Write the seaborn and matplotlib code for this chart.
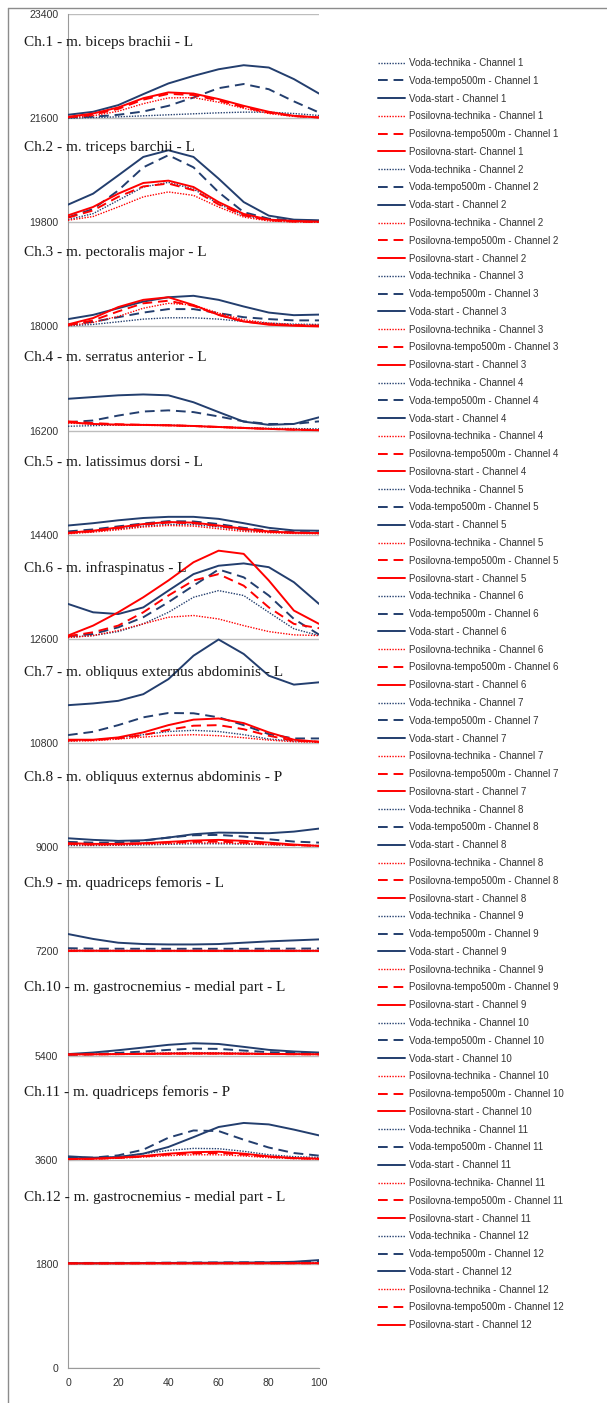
import matplotlib
matplotlib.use("Agg")
import matplotlib.pyplot as plt
import matplotlib.transforms as mtransforms
from matplotlib.lines import Line2D
import seaborn as sns
import numpy as np

# x positions (% of cycle)
X = [0, 10, 20, 30, 40, 50, 60, 70, 80, 90, 100]

SERIES = ["Voda-technika", "Voda-tempo500m", "Voda-start",
          "Posilovna-technika", "Posilovna-tempo500m", "Posilovna-start"]

TITLES = [
    "Ch.1 - m. biceps brachii - L",
    "Ch.2 - m. triceps barchii - L",
    "Ch.3 - m. pectoralis major - L",
    "Ch.4 - m. serratus anterior - L",
    "Ch.5 - m. latissimus dorsi - L",
    "Ch.6 - m. infraspinatus - L",
    "Ch.7 - m. obliquus externus abdominis - L",
    "Ch.8 - m. obliquus externus abdominis - P",
    "Ch.9 - m. quadriceps femoris - L",
    "Ch.10 - m. gastrocnemius - medial part - L",
    "Ch.11 - m. quadriceps femoris - P",
    "Ch.12 - m. gastrocnemius - medial part - L",
]

# values above each channel's baseline, rows in SERIES order
CH1 = [[0, 10, 23, 40, 58, 75, 92, 104, 104, 80, 46],
       [10, 25, 58, 115, 213, 357, 518, 590, 500, 290, 98],
       [58, 110, 225, 415, 600, 730, 845, 915, 875, 675, 425],
       [10, 40, 120, 250, 350, 355, 275, 170, 80, 30, 10],
       [15, 60, 160, 320, 420, 400, 305, 190, 95, 35, 12],
       [23, 80, 185, 345, 445, 425, 330, 213, 110, 40, 12]]
CH2 = [[46, 150, 380, 610, 690, 575, 320, 115, 46, 23, 12],
       [86, 230, 550, 950, 1160, 950, 520, 175, 63, 35, 23],
       [305, 495, 810, 1130, 1245, 1130, 755, 350, 115, 46, 35],
       [35, 100, 265, 440, 525, 465, 265, 90, 23, 6, 0],
       [80, 205, 440, 620, 670, 555, 310, 120, 35, 12, 6],
       [120, 265, 495, 680, 720, 610, 350, 145, 46, 23, 12]]
CH3 = [[12, 35, 80, 127, 150, 150, 127, 86, 58, 40, 35],
       [30, 80, 160, 240, 300, 300, 230, 160, 127, 105, 105],
       [127, 200, 315, 430, 505, 530, 460, 345, 240, 195, 205],
       [12, 70, 175, 315, 400, 370, 230, 115, 58, 30, 17],
       [23, 105, 260, 400, 445, 355, 200, 86, 40, 23, 12],
       [35, 145, 335, 460, 505, 370, 200, 86, 30, 12, 0]]
CH4 = [[75, 86, 98, 104, 98, 80, 63, 52, 40, 35, 30],
       [145, 175, 260, 330, 350, 320, 245, 160, 115, 115, 160],
       [550, 580, 610, 625, 610, 490, 320, 155, 100, 115, 230],
       [130, 110, 98, 92, 86, 75, 58, 40, 30, 17, 12],
       [160, 130, 110, 100, 92, 80, 63, 46, 30, 17, 10],
       [145, 115, 104, 98, 92, 80, 63, 46, 30, 17, 6]]
CH5 = [[35, 58, 104, 150, 180, 175, 135, 80, 46, 35, 29],
       [58, 92, 145, 195, 235, 230, 185, 120, 70, 46, 40],
       [160, 200, 250, 290, 310, 310, 275, 200, 120, 75, 70],
       [17, 46, 86, 135, 160, 150, 104, 58, 35, 23, 17],
       [29, 58, 115, 175, 210, 200, 150, 92, 52, 35, 29],
       [35, 70, 127, 185, 220, 210, 160, 104, 58, 35, 29]]
CH6 = [[29, 58, 127, 260, 460, 720, 835, 750, 460, 175, 58],
       [46, 86, 200, 375, 635, 920, 1200, 1065, 750, 345, 75],
       [605, 460, 430, 545, 835, 1120, 1265, 1305, 1240, 980, 605],
       [23, 58, 145, 260, 375, 405, 345, 230, 127, 70, 58],
       [46, 115, 230, 460, 750, 1010, 1120, 920, 545, 260, 185],
       [58, 230, 460, 720, 1010, 1325, 1525, 1470, 1010, 490, 260]]
CH7 = [[40, 52, 92, 145, 200, 220, 200, 145, 70, 35, 23],
       [138, 195, 310, 445, 520, 515, 445, 310, 155, 80, 80],
       [655, 685, 730, 845, 1105, 1510, 1790, 1540, 1165, 1010, 1050],
       [35, 40, 70, 104, 132, 145, 127, 92, 52, 23, 12],
       [46, 52, 80, 138, 230, 300, 310, 240, 127, 40, 23],
       [58, 58, 98, 185, 310, 405, 425, 345, 185, 58, 23]]
CH8 = [[30, 30, 35, 40, 50, 60, 60, 55, 45, 35, 30],
       [92, 80, 80, 110, 167, 207, 213, 185, 138, 98, 80],
       [155, 127, 110, 120, 167, 225, 253, 248, 242, 270, 322],
       [46, 40, 40, 52, 63, 75, 75, 63, 46, 35, 23],
       [58, 46, 52, 63, 80, 92, 98, 80, 58, 35, 23],
       [70, 58, 58, 70, 92, 115, 127, 110, 80, 46, 23]]
CH9 = [[20, 18, 16, 15, 15, 15, 15, 15, 16, 17, 18],
       [55, 48, 46, 45, 45, 45, 45, 45, 46, 48, 50],
       [300, 215, 150, 127, 120, 120, 127, 150, 173, 190, 207],
       [8, 8, 7, 7, 7, 7, 7, 7, 7, 7, 7],
       [10, 10, 9, 9, 9, 9, 9, 9, 9, 9, 9],
       [12, 11, 10, 10, 10, 10, 10, 10, 10, 10, 10]]
CH10 = [[20, 25, 30, 38, 45, 50, 48, 40, 33, 28, 25],
        [12, 23, 46, 70, 98, 120, 115, 86, 58, 46, 40],
        [25, 52, 92, 138, 185, 213, 200, 150, 98, 70, 52],
        [15, 17, 20, 23, 26, 28, 28, 25, 22, 20, 18],
        [18, 20, 24, 28, 32, 35, 34, 30, 26, 23, 20],
        [20, 22, 26, 30, 35, 38, 37, 33, 28, 25, 22]]
CH11 = [[17, 23, 46, 104, 160, 195, 190, 145, 86, 52, 40],
        [35, 35, 75, 173, 380, 505, 495, 345, 210, 115, 70],
        [58, 35, 46, 104, 220, 390, 565, 635, 610, 520, 420],
        [8, 12, 25, 45, 70, 85, 85, 65, 35, 18, 10],
        [10, 15, 30, 55, 90, 110, 115, 88, 50, 25, 15],
        [12, 17, 35, 63, 104, 130, 138, 104, 58, 29, 17]]
CH12 = [[8, 8, 9, 10, 11, 12, 13, 14, 15, 18, 22],
        [15, 16, 17, 18, 20, 22, 24, 26, 28, 32, 40],
        [10, 11, 12, 14, 16, 18, 20, 22, 26, 36, 65],
        [5, 5, 5, 6, 6, 6, 6, 7, 7, 7, 8],
        [7, 7, 7, 8, 8, 8, 9, 9, 9, 10, 10],
        [9, 9, 9, 10, 10, 10, 10, 11, 11, 12, 12]]

CHANNELS = [CH1, CH2, CH3, CH4, CH5, CH6, CH7, CH8, CH9, CH10, CH11, CH12]

# legend text quirks from the original workbook
LABEL_FIX = {(1, "Posilovna-start"): "Posilovna-start- Channel 1",
             (11, "Posilovna-technika"): "Posilovna-technika- Channel 11"}

NAVY = "#233E6E"
RED = "#FF0000"
DOT = (0, (1, 1))
DASH = (0, (5, 3))
STYLES = [(NAVY, DOT), (NAVY, DASH), (NAVY, "-"),
          (RED, DOT), (RED, DASH), (RED, "-")]

STEP = 1800
YMAX = 23400


def main():
    sns.set_style("white")
    plt.rcParams["font.family"] = ["Liberation Sans", "DejaVu Sans"]

    fig = plt.figure(figsize=(6.07, 14.03), dpi=100)
    ax = fig.add_axes([68 / 607, 1 - 1368 / 1403, 251 / 607, 1354 / 1403])

    handles, labels = [], []
    for i, ch in enumerate(CHANNELS):
        base = YMAX - STEP * (i + 1)
        for name, vals, (col, ls) in zip(SERIES, ch, STYLES):
            lw = 1.0 if ls == DOT else 1.4
            y = np.array(vals) + base
            sns.lineplot(x=X, y=y, ax=ax, color=col, linestyle=ls,
                         linewidth=lw, zorder=3)
            lab = LABEL_FIX.get((i + 1, name), f"{name} - Channel {i + 1}")
            handles.append(Line2D([], [], color=col, linestyle=ls, linewidth=lw))
            labels.append(lab)

    ax.set_xlim(0, 100)
    ax.set_ylim(0, YMAX)
    ax.set_xticks(range(0, 101, 20))
    ax.set_yticks(range(0, YMAX + 1, STEP))
    ax.yaxis.grid(True, color="#BDBDBD", linewidth=1.0)
    ax.set_axisbelow(True)
    for s in ["top", "right"]:
        ax.spines[s].set_visible(False)
    for s in ["left", "bottom"]:
        ax.spines[s].set_color("#9A9A9A")
    ax.tick_params(axis="both", length=4, width=1, color="#9A9A9A",
                   labelsize=7.6, labelcolor="#333333", direction="out", pad=3)

    # channel titles, left of the axis, near top of each band
    trans = mtransforms.blended_transform_factory(fig.transFigure, ax.transData)
    for i, t in enumerate(TITLES):
        base = YMAX - STEP * (i + 1)
        ax.text(24 / 607, base + STEP - (500 + 14 * i), t, transform=trans,
                family=["Liberation Serif", "DejaVu Serif"], fontsize=11,
                va="center", ha="left", color="#1a1a1a", zorder=5,
                clip_on=False)

    fig.legend(handles, labels, loc="upper left",
               bbox_to_anchor=(378 / 607, 1 - 58 / 1403), frameon=False,
               fontsize=7, handlelength=2.8, handletextpad=0.4,
               labelspacing=0.80, borderpad=0, borderaxespad=0,
               labelcolor="#333333")

    # chart area border (left and top edges visible)
    fig.add_artist(Line2D([8 / 607, 8 / 607], [0, 1 - 8 / 1403],
                          transform=fig.transFigure, color="#8C8C8C", lw=1))
    fig.add_artist(Line2D([8 / 607, 1], [1 - 8 / 1403, 1 - 8 / 1403],
                          transform=fig.transFigure, color="#8C8C8C", lw=1))

    fig.savefig("out.png", dpi=100)
    plt.close(fig)


if __name__ == "__main__":
    main()
